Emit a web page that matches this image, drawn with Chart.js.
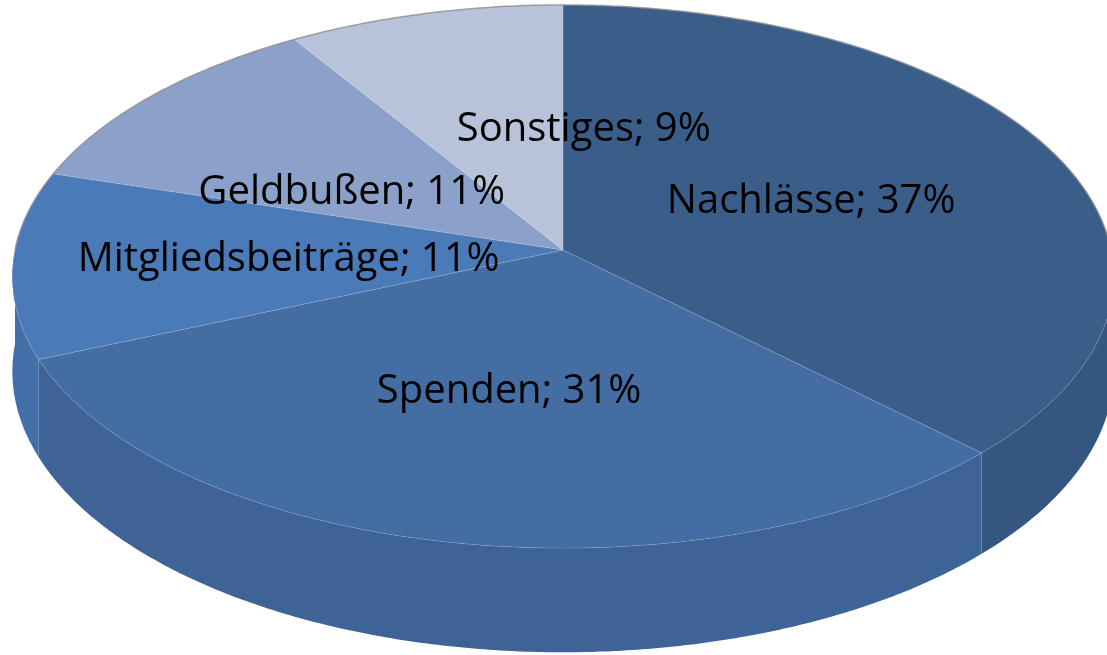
<!DOCTYPE html>
<html>
<head>
<meta charset="utf-8">
<script src="https://cdn.jsdelivr.net/npm/chart.js@4.4.0/dist/chart.umd.min.js"></script>
<style>
  html, body { margin: 0; padding: 0; background: #fff; }
  canvas { display: block; }
</style>
</head>
<body>
<canvas id="chart" width="1107" height="655"></canvas>
<script>
const categories = ["Nachlässe", "Spenden", "Mitgliedsbeiträge", "Geldbußen", "Sonstiges"];
const shares = [37.4, 31.2, 11.1, 11.4, 8.9];

const topColors = ["#3a5d89", "#446ea3", "#4a7ab8", "#8ca1c9", "#b8c3da"];
const sideColors = ["#355680", "#3d6397", "#436fa8", "#7f94bd", "#a9b5cf"];

// best-fit label nudges (px), Excel moves two of the labels off the slice centre
const labelShift = [[0, 0], [0, 0], [0, 0], [0, 19], [93, 0]];

// tilted disc with a bit of perspective
const VIEW = { cx: 563, cy: 250, rx: 548, ry: 269, persp: 0.0976, depth: 94 };

function project(angle, f = 1, drop = 0) {
  const u = Math.cos(angle) * f;
  const v = Math.sin(angle) * f;
  const s = 1 / (1 - VIEW.persp * v);
  return { x: VIEW.cx + VIEW.rx * u * s, y: VIEW.cy + (VIEW.ry * v + drop) * s };
}

const pie3d = {
  id: "pie3d",
  beforeDatasetsDraw() {
    return false; // slices are drawn in 3D below
  },
  afterDraw(chart) {
    const ctx = chart.ctx;
    const arcs = chart.getDatasetMeta(0).data;
    const step = Math.PI / 360;
    ctx.save();

    // outer wall, only the front half (0..PI) can be seen
    arcs.forEach((arc, i) => {
      const a0 = Math.max(arc.startAngle, 0);
      const a1 = Math.min(arc.endAngle, Math.PI);
      if (a1 <= a0) return;
      ctx.beginPath();
      const first = project(a0);
      ctx.moveTo(first.x, first.y);
      for (let a = a0; a < a1; a += step) {
        const p = project(a);
        ctx.lineTo(p.x, p.y);
      }
      let p = project(a1);
      ctx.lineTo(p.x, p.y);
      for (let a = a1; a > a0; a -= step) {
        p = project(a, 1, VIEW.depth);
        ctx.lineTo(p.x, p.y);
      }
      p = project(a0, 1, VIEW.depth);
      ctx.lineTo(p.x, p.y);
      ctx.closePath();
      ctx.fillStyle = sideColors[i];
      ctx.fill();
    });

    // top faces
    const c = project(0, 0);
    arcs.forEach((arc, i) => {
      ctx.beginPath();
      ctx.moveTo(c.x, c.y);
      for (let a = arc.startAngle; a < arc.endAngle; a += step) {
        const p = project(a);
        ctx.lineTo(p.x, p.y);
      }
      const e = project(arc.endAngle);
      ctx.lineTo(e.x, e.y);
      ctx.closePath();
      ctx.fillStyle = topColors[i];
      ctx.fill();
      ctx.lineWidth = 1;
      ctx.strokeStyle = "rgba(255,255,255,0.12)";
      ctx.stroke();
    });

    // thin grey rim along the back edge
    ctx.beginPath();
    for (let a = Math.PI; a <= 2 * Math.PI + 0.001; a += step) {
      const p = project(a);
      if (a === Math.PI) ctx.moveTo(p.x, p.y); else ctx.lineTo(p.x, p.y);
    }
    ctx.strokeStyle = "rgba(140,140,140,0.8)";
    ctx.lineWidth = 1.5;
    ctx.stroke();

    // data labels
    const total = shares.reduce((s, v) => s + v, 0);
    ctx.font = "40px 'Open Sans'";
    ctx.fillStyle = "#000";
    ctx.textAlign = "center";
    ctx.textBaseline = "alphabetic";
    arcs.forEach((arc, i) => {
      const mid = (arc.startAngle + arc.endAngle) / 2;
      const p = project(mid, 0.5);
      const pct = Math.round(shares[i] / total * 100);
      ctx.fillText(categories[i] + "; " + pct + "%", p.x + labelShift[i][0], p.y + labelShift[i][1] + 14);
    });
    ctx.restore();
  }
};

new Chart(document.getElementById("chart"), {
  type: "pie",
  data: {
    labels: categories,
    datasets: [{
      data: shares,
      backgroundColor: topColors,
      borderWidth: 0
    }]
  },
  options: {
    responsive: false,
    animation: false,
    events: [],
    plugins: {
      legend: { display: false },
      tooltip: { enabled: false }
    }
  },
  plugins: [pie3d]
});
</script>
</body>
</html>
